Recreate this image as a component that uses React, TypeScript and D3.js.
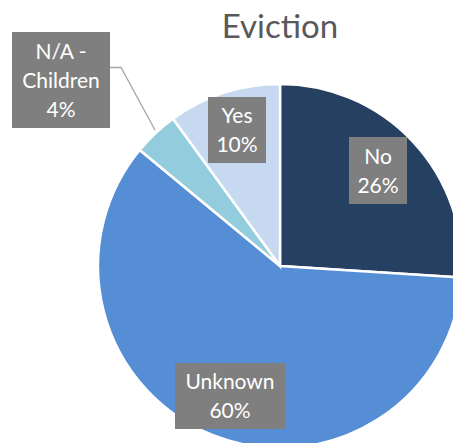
import React from "react";
import * as d3 from "d3";

const categories = ["No", "Unknown", "N/A - Children", "Yes"];
const values = [26, 60, 4, 10];
const labelLines = [["No", "26%"], ["Unknown", "60%"], ["N/A -", "Children", "4%"], ["Yes", "10%"]];
const colors = ["#264061", "#558ED5", "#93CDDD", "#C6D9F1"];
const title = "Eviction";

const W = 453;
const H = 443;
const cx = 280;
const cy = 266;
const R = 182;

// label box layout (center x, center y, width, height)
const boxes = [
  { x: 378, y: 170.5, w: 58, h: 67 },
  { x: 230, y: 396, w: 110, h: 66 },
  { x: 61, y: 80, w: 98, h: 96 },
  { x: 237, y: 130, w: 58, h: 66 },
];

export default function App() {
  const pie = d3
    .pie<number>()
    .sort(null)
    .value((d) => d)
    .startAngle(0)
    .endAngle(2 * Math.PI);
  const arcs = pie(values);
  const arc = d3.arc<d3.PieArcDatum<number>>().innerRadius(0).outerRadius(R);
  const lineH = 29;
  const font = "Lato, 'Open Sans', sans-serif";

  return (
    <svg
      width={W}
      height={H}
      style={{ position: "absolute", left: 0, top: 0, background: "#fff" }}
      fontFamily={font}
    >
      <text x={280} y={38} textAnchor="middle" fontSize={33} fill="#595959">
        {title}
      </text>
      <g transform={`translate(${cx},${cy})`}>
        {arcs.map((a, i) => (
          <path key={categories[i]} d={arc(a) || ""} fill={colors[i]} stroke="#fff" strokeWidth={2.5} strokeLinejoin="miter" />
        ))}
      </g>
      <polyline points="110,67.5 121,67.5 155,130" fill="none" stroke="#A6A6A6" strokeWidth={1.3} />
      {boxes.map((b, i) => {
        const lines = labelLines[i];
        const top = b.y - (lines.length * lineH) / 2;
        return (
          <g key={"lab" + i}>
            <rect x={b.x - b.w / 2} y={b.y - b.h / 2} width={b.w} height={b.h} fill="#7F7F7F" />
            {lines.map((t, j) => (
              <text key={j} x={b.x} y={top + lineH * j + lineH / 2 + 7.5} textAnchor="middle" fontSize={21} fill="#fff">
                {t}
              </text>
            ))}
          </g>
        );
      })}
    </svg>
  );
}
